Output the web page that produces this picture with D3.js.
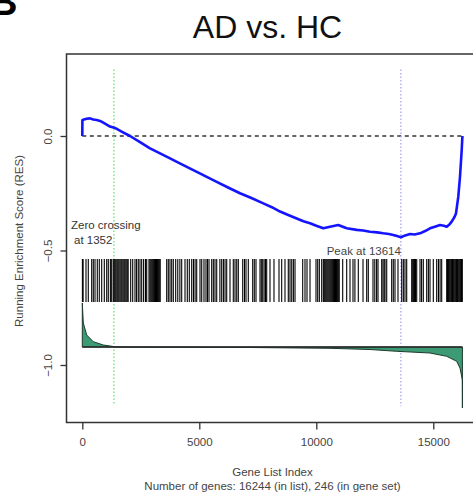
<!DOCTYPE html>
<html>
<head>
<meta charset="utf-8">
<script src="https://cdn.jsdelivr.net/npm/d3@7"></script>
<style>
  body { margin: 0; background: #fff; }
  text { font-family: "Liberation Sans", Arial, sans-serif; }
</style>
</head>
<body>
<svg id="gsea"></svg>
<script>

// RUNNING ENRICHMENT SCORE (GENE INDEX -> RES)
var esIndex = [0, 5, 180, 329, 470, 615, 760, 897, 1040, 1184, 1397, 1700, 2038, 2450, 2893, 3600, 4316, 5000, 5744, 6250, 6739, 7250, 7735, 8100, 8449, 8800, 9162, 9450, 9731, 10000, 10299, 10585, 10940, 11299, 11726, 12000, 12295, 12600, 12863, 13100, 13291, 13450, 13614, 13800, 14004, 14200, 14432, 14650, 14859, 15100, 15286, 15450, 15573, 15700, 15786, 15900, 15970, 16068, 16141, 16214, 16244];
var esValue = [0, 0.07, 0.075, 0.077, 0.072, 0.07, 0.066, 0.058, 0.05, 0.041, 0.035, 0.018, 0.0, -0.026, -0.054, -0.09, -0.127, -0.162, -0.2, -0.226, -0.25, -0.272, -0.294, -0.311, -0.33, -0.345, -0.36, -0.372, -0.381, -0.392, -0.403, -0.396, -0.389, -0.403, -0.41, -0.413, -0.418, -0.421, -0.425, -0.428, -0.432, -0.437, -0.442, -0.434, -0.428, -0.43, -0.425, -0.415, -0.403, -0.395, -0.389, -0.392, -0.396, -0.385, -0.374, -0.355, -0.338, -0.265, -0.178, -0.061, 0];

// POSITIONS OF THE 246 GENE SET MEMBERS IN THE RANKED LIST (BARCODE)
var hits = [5, 35, 158, 256, 402, 470, 543, 641, 726, 829, 940, 1043, 1111, 1200, 1256,
  1325, 1365, 1405, 1445, 1490, 1530, 1570, 1615, 1660, 1700, 1745, 1790, 1830, 1875, 1920, 1960,
  2068, 2154, 2252, 2320, 2393, 2466, 2538, 2620, 2700, 2752,
  2850, 2890, 2930, 2970, 3010, 3050, 3090, 3130, 3170, 3210, 3250, 3290, 3330,
  3607, 3675, 3748, 3820, 3889, 3991, 4080, 4170, 4248, 4389, 4487, 4573, 4675, 4750, 4820, 4889,
  5030, 5103, 5200, 5286, 5350, 5415, 5530, 5600, 5671, 5744, 5880, 5957, 6030, 6100, 6171,
  6312, 6453, 6526, 6600, 6667, 6855, 6930, 6996, 7094, 7282, 7350, 7423,
  7594, 7650, 7710, 7770, 7830, 7880, 8021, 8192, 8406, 8521, 8662, 8803, 8876, 8950, 9020, 9090,
  9419, 9517, 9603, 9731, 9987, 10060, 10130, 10231,
  10300, 10340, 10380, 10420, 10460, 10500, 10540, 10580, 10620, 10660, 10700, 10740, 10780, 10820, 10860, 10900, 10940, 10980,
  11128, 11299, 11440, 11568, 11650, 11795, 11996, 12154, 12222, 12423, 12500, 12577, 12637,
  12795, 12850, 12900, 12936, 13009, 13222, 13290, 13363, 13491, 13650, 13720, 13790, 13863,
  14077, 14120, 14160, 14200, 14240, 14291, 14432, 14500, 14573, 14718, 14790, 14859, 15000,
  15145, 15220, 15290, 15359,
  15573, 15610, 15645, 15680, 15715, 15750, 15785, 15820, 15855, 15890, 15925, 15960, 15995, 16030, 16065, 16100, 16135, 16170, 16205, 16240];

// RANKED LIST METRIC (GENE INDEX -> METRIC)
var metricIndex = [0, 43, 188, 470, 897, 1325, 1352, 2893, 7167, 9303, 10585, 12295, 13436, 14859, 15573, 16000, 16141, 16200, 16240, 16244];
var metricValue = [0.88, 0.48, 0.24, 0.106, 0.04, 0.01, 0, -0.004, -0.01, -0.02, -0.026, -0.05, -0.086, -0.12, -0.186, -0.286, -0.42, -0.56, -0.66, -1.22];

var xTicks = [0, 5000, 10000, 15000];
var yTicks = [0, -0.5, -1];
var nGenes = 16244, nSet = 246;
var zeroCross = 1352, peakAt = 13614;

var width = 473, height = 497;

var svg = d3.select('#gsea')
            .attr("width", width)
            .attr("height", height);

var x = d3.scaleLinear().domain([0, nGenes]).range([82.3, 82.3 + nGenes * 0.02340]);
var y = d3.scaleLinear().domain([0, -1]).range([136, 365]);
var yMetric = d3.scaleLinear().domain([0, 1]).range([347, 297]);

// PLOT BOX (RIGHT SIDE RUNS OFF THE PICTURE)
svg.append("rect")
    .attr("x", 66.5).attr("y", 54)
    .attr("width", 430).attr("height", 368.5)
    .attr("fill", "none")
    .attr("stroke", "#333")
    .attr("stroke-width", 1.5);

// X AXIS
var xAxis = svg.append("g")
    .attr("transform", "translate(0,422.5)")
    .call(d3.axisBottom(x).tickValues(xTicks).tickSize(7).tickPadding(8).tickFormat(d3.format("d")));
xAxis.select(".domain").remove();
xAxis.selectAll("line").attr("stroke", "#333").attr("stroke-width", 1.3);
xAxis.selectAll("text").attr("fill", "#444").style("font-size", "11.5px").style("font-family", "Liberation Sans, Arial, sans-serif");

// Y AXIS, LABELS TURNED LIKE R DOES (TICK GROUP IS ALREADY AT y(d))
var yAxis = svg.append("g")
    .attr("transform", "translate(66.5,0)")
    .call(d3.axisLeft(y).tickValues(yTicks).tickSize(6).tickFormat(d3.format(".1f")));
yAxis.select(".domain").remove();
yAxis.selectAll("line").attr("stroke", "#333").attr("stroke-width", 1.3);
yAxis.selectAll("text")
    .attr("x", 0).attr("y", 0).attr("dy", null)
    .attr("text-anchor", "middle")
    .attr("transform", "translate(-15,0) rotate(-90)")
    .attr("fill", "#444")
    .style("font-size", "11.5px")
    .style("font-family", "Liberation Sans, Arial, sans-serif");

// ZERO LINE
svg.append("line")
    .attr("x1", x(0)).attr("x2", x(nGenes))
    .attr("y1", y(0)).attr("y2", y(0))
    .attr("stroke", "#333").attr("stroke-width", 1.5)
    .attr("stroke-dasharray", "4,3.5");

// ZERO CROSSING AND PEAK MARKERS
svg.append("line")
    .attr("x1", x(zeroCross)).attr("x2", x(zeroCross))
    .attr("y1", y(0.29)).attr("y2", y(-1.17))
    .attr("stroke", "#5fe35f").attr("stroke-width", 1.2)
    .attr("stroke-dasharray", "1.5,2");
svg.append("line")
    .attr("x1", x(peakAt)).attr("x2", x(peakAt))
    .attr("y1", y(0.29)).attr("y2", y(-1.18))
    .attr("stroke", "#a0a0f5").attr("stroke-width", 1.2)
    .attr("stroke-dasharray", "1.5,2");

// BARCODE OF HITS
svg.selectAll(".hit")
    .data(hits)
    .enter()
    .append("line")
    .attr("class", "hit")
    .attr("x1", function(d){ return x(d); })
    .attr("x2", function(d){ return x(d); })
    .attr("y1", y(-0.537))
    .attr("y2", y(-0.725))
    .attr("stroke", "#000")
    .attr("stroke-width", 1.1);

// RANKED METRIC AREA
var metric = metricIndex.map(function(d, i){ return [d, metricValue[i]]; });

svg.append("path")
    .datum(metric)
    .attr("d", d3.area()
        .x(function(d){ return x(d[0]); })
        .y0(yMetric(0))
        .y1(function(d){ return yMetric(d[1]); }))
    .attr("fill", "#3c9a74")
    .attr("stroke", "#1d3a2c")
    .attr("stroke-width", 1);

svg.append("line")
    .attr("x1", x(0)).attr("x2", x(nGenes))
    .attr("y1", yMetric(0)).attr("y2", yMetric(0))
    .attr("stroke", "#2a2a2a").attr("stroke-width", 1.6);

// RUNNING ES CURVE
var es = esIndex.map(function(d, i){ return [d, esValue[i]]; });

svg.append("path")
    .datum(es)
    .attr("d", d3.line()
        .x(function(d){ return x(d[0]); })
        .y(function(d){ return y(d[1]); }))
    .attr("fill", "none")
    .attr("stroke", "#1414ff")
    .attr("stroke-width", 2.6)
    .attr("stroke-linejoin", "round");

// ANNOTATIONS
svg.append("text")
    .attr("x", 71).attr("y", 229)
    .attr("fill", "#333").style("font-size", "11.5px")
    .text("Zero crossing");
svg.append("text")
    .attr("x", 74).attr("y", 244)
    .attr("fill", "#333").style("font-size", "11.5px")
    .text("at " + zeroCross);
svg.append("text")
    .attr("x", x(peakAt)).attr("y", 255)
    .attr("text-anchor", "end")
    .attr("fill", "#444").style("font-size", "11.5px")
    .text("Peak at " + peakAt);

// TITLES
svg.append("text")
    .attr("x", 267.5).attr("y", 38)
    .attr("text-anchor", "middle")
    .attr("fill", "#111").style("font-size", "32px")
    .text("AD vs. HC");
svg.append("text")
    .attr("x", -10).attr("y", 15)
    .attr("fill", "#000").style("font-size", "38px").style("font-weight", "bold")
    .text("B");

svg.append("text")
    .attr("transform", "translate(23,241) rotate(-90)")
    .attr("text-anchor", "middle")
    .attr("fill", "#444").style("font-size", "11.5px")
    .text("Running Enrichment Score (RES)");

svg.append("text")
    .attr("x", 272.5).attr("y", 476)
    .attr("text-anchor", "middle")
    .attr("fill", "#444").style("font-size", "11.5px")
    .text("Gene List Index");
svg.append("text")
    .attr("x", 272.5).attr("y", 490)
    .attr("text-anchor", "middle")
    .attr("fill", "#444").style("font-size", "11.5px")
    .text("Number of genes: " + nGenes + " (in list), " + nSet + " (in gene set)");

</script>
</body>
</html>
